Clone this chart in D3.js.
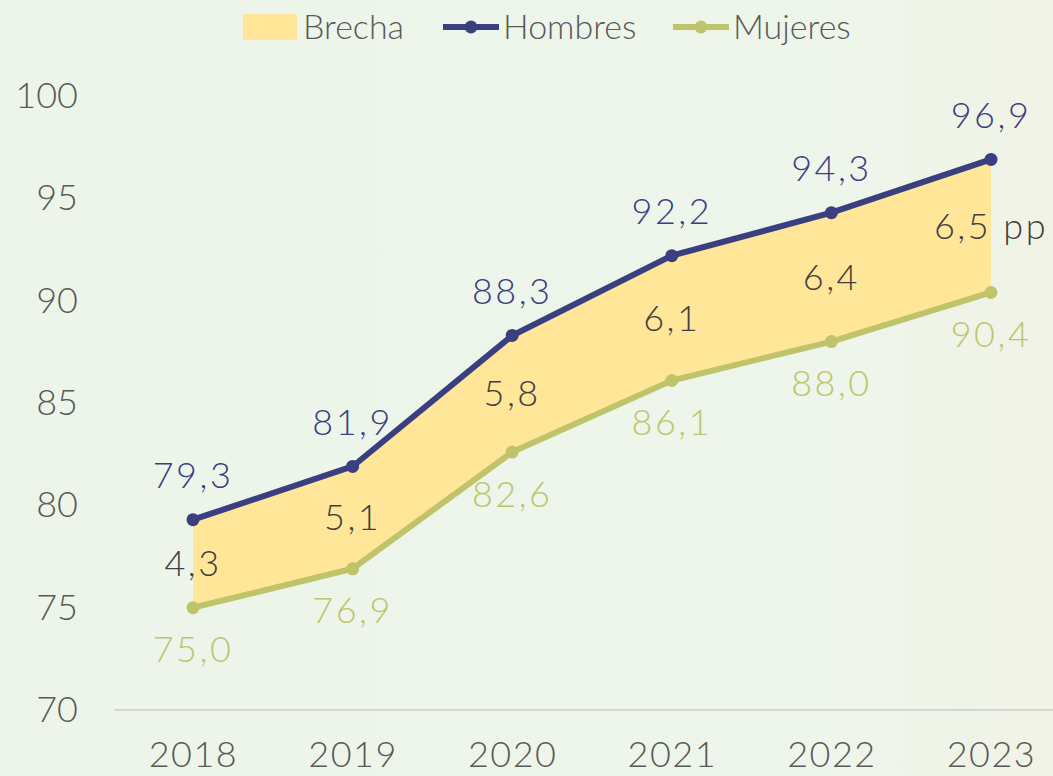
<!DOCTYPE html>
<html>
<head>
<meta charset="utf-8">
<script src="https://cdn.jsdelivr.net/npm/d3@7"></script>
<style>
  body { margin: 0; background: #eef5eb; }
  svg text { font-family: Lato, "Open Sans", sans-serif; font-weight: 300; }
</style>
</head>
<body>
<div id="chart"></div>
<script>
// data
const years = ["2018", "2019", "2020", "2021", "2022", "2023"];
const hombres = [79.3, 81.9, 88.3, 92.2, 94.3, 96.9];
const mujeres = [75.0, 76.9, 82.6, 86.1, 88.0, 90.4];
const brecha = [4.3, 5.1, 5.8, 6.1, 6.4, 6.5];
const yTicks = [70, 75, 80, 85, 90, 95, 100];

const W = 1053, H = 776;
const navy = "#3a3f80", olive = "#bfc46b", gold = "#ffe699";
const fmt = v => v.toFixed(1).replace(".", ",");

const svg = d3.select("#chart").append("svg")
    .attr("width", W).attr("height", H);

// soft background with a lighter band on the right
const grad = svg.append("defs").append("linearGradient")
    .attr("id", "bg").attr("x1", 0).attr("x2", 1);
grad.append("stop").attr("offset", "0%").attr("stop-color", "#edf5ea");
grad.append("stop").attr("offset", "80%").attr("stop-color", "#eef5ea");
grad.append("stop").attr("offset", "100%").attr("stop-color", "#f1f3e6");
svg.append("rect").attr("width", W).attr("height", H).attr("fill", "url(#bg)");

const x = d3.scalePoint().domain(years).range([193, 991]);
const y = d3.scaleLinear().domain([70, 100]).range([710, 96]);

// axes
const xAxis = svg.append("g")
    .attr("transform", `translate(0,${y(70)})`)
    .call(d3.axisBottom(x).tickSize(0).tickPadding(30));
xAxis.select(".domain").remove();
xAxis.append("line").attr("x1", 114).attr("x2", W)
    .attr("stroke", "#d4d6d2").attr("stroke-width", 2);
xAxis.selectAll(".tick text").attr("fill", "#595959").attr("font-size", 36)
    .attr("letter-spacing", 1.5).attr("dy", "0.75em");

const yAxis = svg.append("g")
    .attr("transform", "translate(78,0)")
    .call(d3.axisLeft(y).tickValues(yTicks).tickSize(0).tickPadding(0));
yAxis.select(".domain").remove();
yAxis.selectAll(".tick text").attr("fill", "#595959").attr("font-size", 36);

// gap area
const rows = years.map((yr, i) => ({yr, h: hombres[i], m: mujeres[i], b: brecha[i]}));
svg.append("path").datum(rows)
    .attr("fill", gold)
    .attr("d", d3.area().x(d => x(d.yr)).y0(d => y(d.m)).y1(d => y(d.h)));

// lines and dots
[[hombres, navy], [mujeres, olive]].forEach(([vals, col]) => {
  svg.append("path").datum(vals)
      .attr("fill", "none").attr("stroke", col).attr("stroke-width", 6)
      .attr("d", d3.line().x((d, i) => x(years[i])).y(d => y(d)));
  svg.selectAll(null).data(vals).enter().append("circle")
      .attr("cx", (d, i) => x(years[i])).attr("cy", d => y(d))
      .attr("r", 6.5).attr("fill", col);
});

// labels
const label = (cls, yPos, col, txt) =>
  svg.selectAll(cls).data(rows).enter().append("text")
      .attr("x", d => x(d.yr)).attr("y", yPos)
      .attr("text-anchor", "middle").attr("dy", "0.35em")
      .attr("font-size", 36).attr("letter-spacing", 2.5)
      .attr("fill", col).text(txt);

label(".lh", d => y(d.h) - 44, navy, d => fmt(d.h));
label(".lm", d => y(d.m) + 42, olive, d => fmt(d.m));
label(".lb", d => (y(d.h) + y(d.m)) / 2, "#404040",
    (d, i) => i === rows.length - 1 ? fmt(d.b) + " pp" : fmt(d.b));

// legend
const lg = svg.append("g");
lg.append("rect").attr("x", 243).attr("y", 14).attr("width", 54).attr("height", 26).attr("fill", gold);
lg.append("text").attr("x", 303).attr("y", 27).attr("dy", "0.35em")
    .attr("font-size", 34).attr("fill", "#595959").text("Brecha");
[[443, navy, "Hombres"], [673, olive, "Mujeres"]].forEach(([lx, col, name]) => {
  lg.append("line").attr("x1", lx).attr("x2", lx + 56).attr("y1", 27).attr("y2", 27)
      .attr("stroke", col).attr("stroke-width", 6);
  lg.append("circle").attr("cx", lx + 28).attr("cy", 27).attr("r", 6.5).attr("fill", col);
  lg.append("text").attr("x", lx + 60).attr("y", 27).attr("dy", "0.35em")
      .attr("font-size", 34).attr("fill", "#595959").text(name);
});
</script>
</body>
</html>
